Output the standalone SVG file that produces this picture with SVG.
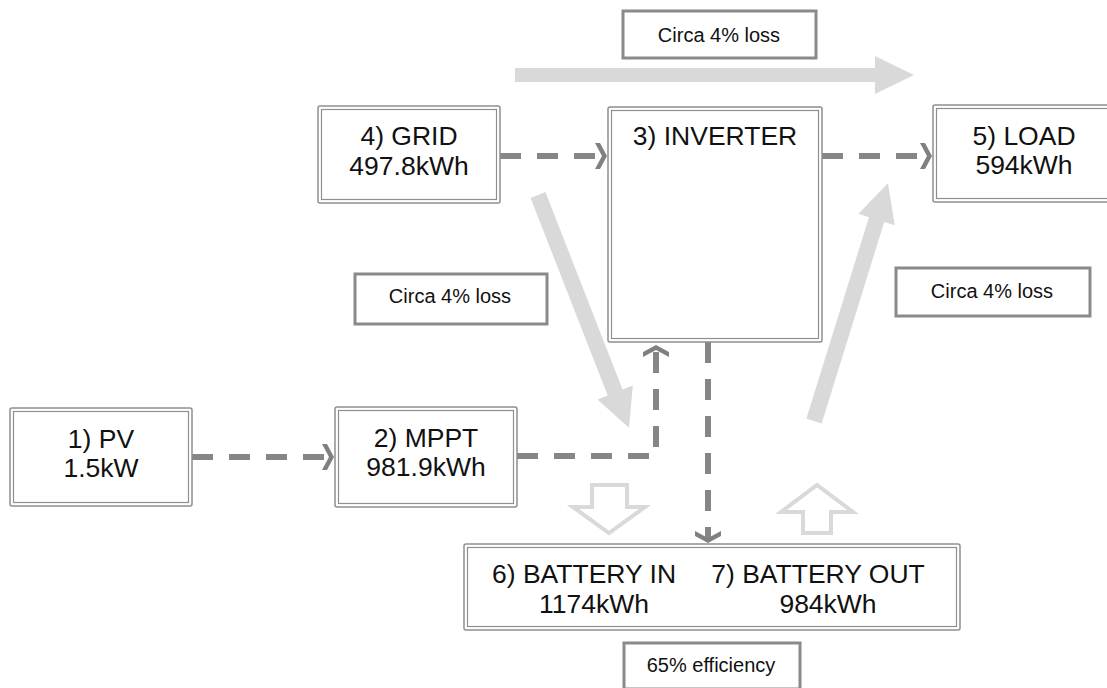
<svg xmlns="http://www.w3.org/2000/svg" width="1107" height="688" viewBox="0 0 1107 688">
<style>
.n-out{fill:#fff;stroke:#8f8f8f;stroke-width:1.5}
.n-in{fill:none;stroke:#8f8f8f;stroke-width:1.2}
.lbl{fill:#fff;stroke:#8a8a8a;stroke-width:3}
.t{font-family:"Liberation Sans",Arial,sans-serif;font-size:26.5px;fill:#111;text-anchor:middle}
.s{font-family:"Liberation Sans",Arial,sans-serif;font-size:20px;fill:#111;text-anchor:middle}
.big{fill:#d9d9d9}
.hollow{fill:#fff;stroke:#d9d9d9;stroke-width:4}
.dash{fill:none;stroke:#868686;stroke-width:6;stroke-dasharray:21 16}
</style>
<defs>
<marker id="chev" markerUnits="userSpaceOnUse" viewBox="0 0 12 26" refX="7" refY="13" markerWidth="12" markerHeight="26" orient="auto">
<path d="M0,0 L5,0 L12,13 L5,26 L0,26 L7,13 Z" fill="#808080"/>
</marker>
</defs>

<g id="big-arrows">
<path class="big" d="M0,-7 H360 V-19 L399,0 L360,19 V7 H0 Z" transform="translate(515,75)"/>
<path class="big" d="M0,-8 H212 V-19 L250,0 L212,19 V8 H0 Z" transform="translate(538,195) rotate(68.66)"/>
<path class="big" d="M0,-8 H211 V-19 L249,0 L211,19 V8 H0 Z" transform="translate(814,421) rotate(-72.73)"/>
<path class="hollow" d="M592,485 H627 V507 H645 L609,533 L573,507 H592 Z"/>
<path class="hollow" d="M803,533 H831 V512 H853 L817,485 L781,512 H803 Z"/>
</g>

<g id="connectors">
<path class="dash" d="M192,457 H329" marker-end="url(#chev)"/>
<path class="dash" d="M500,156 H602" marker-end="url(#chev)"/>
<path class="dash" d="M822,156 H927" marker-end="url(#chev)"/>
<path class="dash" d="M517,456 H656 V350" marker-end="url(#chev)"/>
<path class="dash" d="M708,342 V538" marker-end="url(#chev)"/>
</g>

<g id="pv">
<rect class="n-out" x="10" y="408" width="182" height="98" rx="2"/>
<rect class="n-in" x="13.5" y="411.5" width="175" height="91"/>
<text class="t" x="101" y="448">1) PV</text>
<text class="t" x="101" y="477">1.5kW</text>
</g>

<g id="mppt">
<rect class="n-out" x="335" y="407" width="182" height="100" rx="2"/>
<rect class="n-in" x="338.5" y="410.5" width="175" height="93"/>
<text class="t" x="426" y="447">2) MPPT</text>
<text class="t" x="426" y="476">981.9kWh</text>
</g>

<g id="grid">
<rect class="n-out" x="318" y="106" width="182" height="97" rx="2"/>
<rect class="n-in" x="321.5" y="109.5" width="175" height="90"/>
<text class="t" x="409" y="145">4) GRID</text>
<text class="t" x="409" y="175">497.8kWh</text>
</g>

<g id="inverter">
<rect class="n-out" x="608" y="107" width="214" height="235" rx="2"/>
<rect class="n-in" x="611.5" y="110.5" width="207" height="228"/>
<text class="t" x="715" y="145">3) INVERTER</text>
</g>

<g id="load">
<rect class="n-out" x="933" y="105" width="182" height="97" rx="2"/>
<rect class="n-in" x="936.5" y="108.5" width="175" height="90"/>
<text class="t" x="1024" y="145">5) LOAD</text>
<text class="t" x="1024" y="174">594kWh</text>
</g>

<g id="battery">
<rect class="n-out" x="464" y="544" width="496" height="86" rx="2"/>
<rect class="n-in" x="467.5" y="547.5" width="489" height="79"/>
<text class="t" x="584" y="583">6) BATTERY IN</text>
<text class="t" x="594" y="613">1174kWh</text>
<text class="t" x="818" y="583">7) BATTERY OUT</text>
<text class="t" x="828" y="613">984kWh</text>
</g>

<g id="label-top">
<rect class="lbl" x="623" y="11" width="193" height="47"/>
<text class="s" x="719" y="42">Circa 4% loss</text>
</g>

<g id="label-left">
<rect class="lbl" x="355" y="274" width="192" height="50"/>
<text class="s" x="450" y="303">Circa 4% loss</text>
</g>

<g id="label-right">
<rect class="lbl" x="896" y="268" width="194" height="48"/>
<text class="s" x="992" y="298">Circa 4% loss</text>
</g>

<g id="label-eff">
<rect class="lbl" x="624" y="643" width="176" height="46"/>
<text class="s" x="711" y="672">65% efficiency</text>
</g>
</svg>
